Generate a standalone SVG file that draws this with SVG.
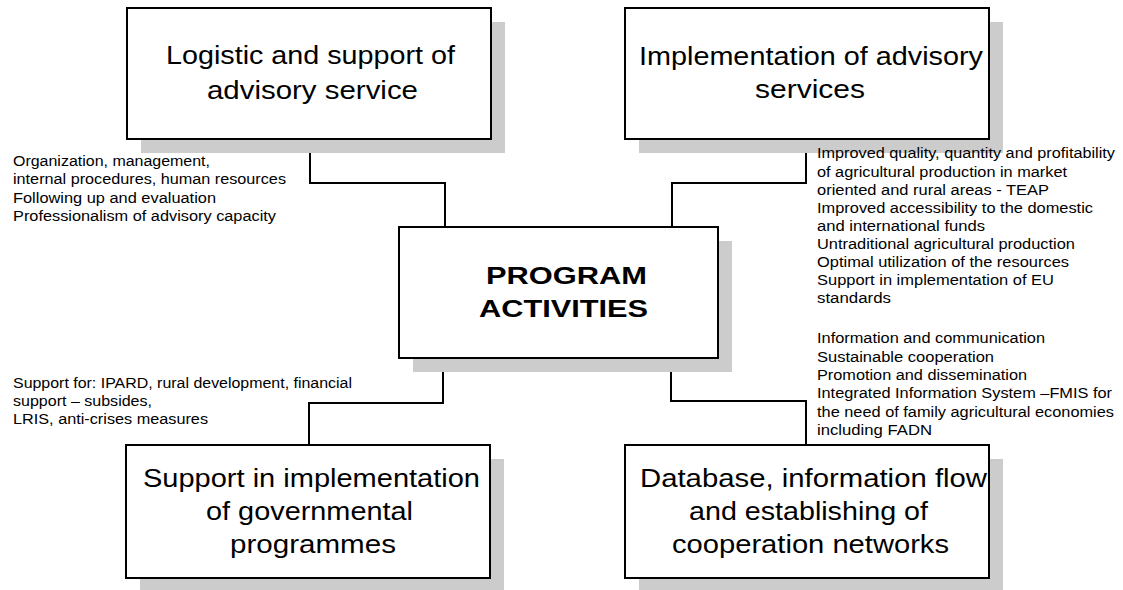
<svg xmlns="http://www.w3.org/2000/svg" width="1123" height="590" viewBox="0 0 1123 590">
<style>
.shadow{fill:#cccccc;stroke:none}
.box{fill:#ffffff;stroke:#000000;stroke-width:2}
.conn{fill:none;stroke:#000000;stroke-width:2}
.bt{font-family:"Liberation Sans",Arial,sans-serif;font-size:25px;fill:#000}
.ct{font-family:"Liberation Sans",Arial,sans-serif;font-size:24px;font-weight:bold;fill:#000}
.st{font-family:"Liberation Sans",Arial,sans-serif;font-size:15.5px;fill:#000}
</style>
<rect width="1123" height="590" fill="#ffffff"/>
<g id="connectors">
<path class="conn" d="M310,138 V183 H445 V227"/>
<path class="conn" d="M806,138 V183 H672 V227"/>
<path class="conn" d="M443,358 V403 H309 V445"/>
<path class="conn" d="M671,358 V401 H806 V445"/>
</g>
<g id="node-logistic">
<rect class="shadow" x="141" y="22" width="364" height="131"/>
<rect class="box" x="127" y="8" width="364" height="131"/>
<text class="bt" x="166" y="64" textLength="289" lengthAdjust="spacingAndGlyphs">Logistic and support of</text>
<text class="bt" x="207" y="99" textLength="211" lengthAdjust="spacingAndGlyphs">advisory service</text>
</g>
<g id="node-implementation">
<rect class="shadow" x="639" y="22" width="364" height="131"/>
<rect class="box" x="625" y="8" width="364" height="131"/>
<text class="bt" x="639" y="65" textLength="344" lengthAdjust="spacingAndGlyphs">Implementation of advisory</text>
<text class="bt" x="755" y="98" textLength="110" lengthAdjust="spacingAndGlyphs">services</text>
</g>
<g id="node-program">
<rect class="shadow" x="413" y="241" width="319" height="131"/>
<rect class="box" x="399" y="227" width="319" height="131"/>
<text class="ct" x="486" y="284" textLength="161" lengthAdjust="spacingAndGlyphs">PROGRAM</text>
<text class="ct" x="479" y="317" textLength="169" lengthAdjust="spacingAndGlyphs">ACTIVITIES</text>
</g>
<g id="node-governmental">
<rect class="shadow" x="140" y="459" width="364" height="133"/>
<rect class="box" x="126" y="445" width="364" height="133"/>
<text class="bt" x="143" y="487" textLength="337" lengthAdjust="spacingAndGlyphs">Support in implementation</text>
<text class="bt" x="206" y="520" textLength="207" lengthAdjust="spacingAndGlyphs">of governmental</text>
<text class="bt" x="230" y="553" textLength="166" lengthAdjust="spacingAndGlyphs">programmes</text>
</g>
<g id="node-database">
<rect class="shadow" x="639" y="459" width="364" height="133"/>
<rect class="box" x="625" y="445" width="364" height="133"/>
<text class="bt" x="640" y="487" textLength="347" lengthAdjust="spacingAndGlyphs">Database, information flow</text>
<text class="bt" x="689" y="520" textLength="239" lengthAdjust="spacingAndGlyphs">and establishing of</text>
<text class="bt" x="672" y="553" textLength="277" lengthAdjust="spacingAndGlyphs">cooperation networks</text>
</g>
<g id="label-logistic">
<text class="st" x="13" y="166" textLength="197" lengthAdjust="spacingAndGlyphs">Organization, management,</text>
<text class="st" x="13" y="184" textLength="273" lengthAdjust="spacingAndGlyphs">internal procedures, human resources</text>
<text class="st" x="13" y="203" textLength="203" lengthAdjust="spacingAndGlyphs">Following up and evaluation</text>
<text class="st" x="13" y="221" textLength="263" lengthAdjust="spacingAndGlyphs">Professionalism of advisory capacity</text>
</g>
<g id="label-governmental">
<text class="st" x="13" y="388" textLength="339" lengthAdjust="spacingAndGlyphs">Support for: IPARD, rural development, financial</text>
<text class="st" x="13" y="406" textLength="139" lengthAdjust="spacingAndGlyphs">support – subsides,</text>
<text class="st" x="13" y="424" textLength="195" lengthAdjust="spacingAndGlyphs">LRIS, anti-crises measures</text>
</g>
<g id="label-implementation">
<text class="st" x="817" y="158" textLength="298" lengthAdjust="spacingAndGlyphs">Improved quality, quantity and profitability</text>
<text class="st" x="817" y="177" textLength="250" lengthAdjust="spacingAndGlyphs">of agricultural production in market</text>
<text class="st" x="817" y="195" textLength="232" lengthAdjust="spacingAndGlyphs">oriented and rural areas - TEAP</text>
<text class="st" x="817" y="213" textLength="276" lengthAdjust="spacingAndGlyphs">Improved accessibility to the domestic</text>
<text class="st" x="817" y="231" textLength="168" lengthAdjust="spacingAndGlyphs">and international funds</text>
<text class="st" x="817" y="249" textLength="258" lengthAdjust="spacingAndGlyphs">Untraditional agricultural production</text>
<text class="st" x="817" y="267" textLength="252" lengthAdjust="spacingAndGlyphs">Optimal utilization of the resources</text>
<text class="st" x="817" y="285" textLength="237" lengthAdjust="spacingAndGlyphs">Support in implementation of EU</text>
<text class="st" x="817" y="303" textLength="74" lengthAdjust="spacingAndGlyphs">standards</text>
</g>
<g id="label-database">
<text class="st" x="817" y="343" textLength="228" lengthAdjust="spacingAndGlyphs">Information and communication</text>
<text class="st" x="817" y="362" textLength="177" lengthAdjust="spacingAndGlyphs">Sustainable cooperation</text>
<text class="st" x="817" y="380" textLength="210" lengthAdjust="spacingAndGlyphs">Promotion and dissemination</text>
<text class="st" x="817" y="398" textLength="295" lengthAdjust="spacingAndGlyphs">Integrated Information System –FMIS for</text>
<text class="st" x="817" y="417" textLength="297" lengthAdjust="spacingAndGlyphs">the need of family agricultural economies</text>
<text class="st" x="817" y="435" textLength="115" lengthAdjust="spacingAndGlyphs">including FADN</text>
</g>
</svg>
